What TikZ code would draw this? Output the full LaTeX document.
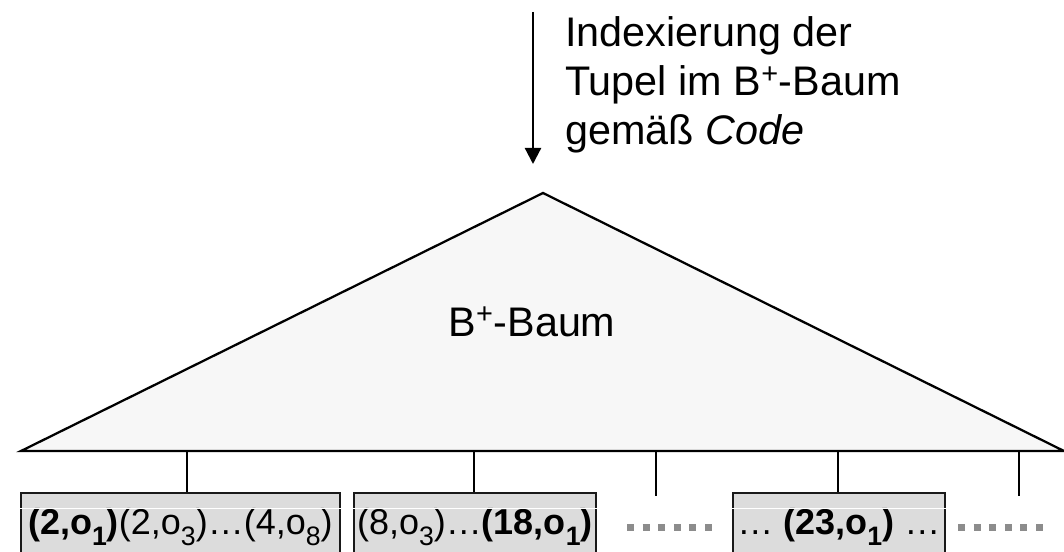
\documentclass[tikz,border=0pt]{standalone}
\usepackage{fontspec}
\setmainfont{Liberation Sans}
\usetikzlibrary{arrows.meta}
\definecolor{fogliagrigio}{HTML}{DCDCDC}
\definecolor{alberogrigio}{HTML}{F7F7F7}
\definecolor{puntigrigio}{HTML}{8C8C8C}
\newcommand{\pedice}[1]{\raisebox{-8pt}{\fontsize{20}{20}\selectfont #1}}
\begin{document}
\begin{tikzpicture}[x=0.75pt, y=-0.75pt,
    ramo/.style={line width=1.7pt},
    foglia/.style={draw=black!90, fill=fogliagrigio, line width=1.3pt, inner sep=0pt,
      anchor=north west, text height=31.5pt, text depth=40pt,
      font=\fontsize{27}{32}\selectfont},
    puntini/.style={draw=puntigrigio, line width=5.25pt, dash pattern=on 5.25pt off 6.45pt}]
      \clip (0,0) rectangle (1064,552);

      % Freccia e testo
      \coordinate (inizio) at (533,12);
      \coordinate (punta) at (533,164);
      \draw[ramo, -{Triangle[length=12pt, width=12pt]}] (inizio) -- (punta);
      \node[anchor=north west, inner sep=0pt, align=left,
        font=\fontsize{31}{36.75}\selectfont] (testo) at (565,16)
        {Indexierung der\\Tupel im B\textsuperscript{+}-Baum\\gemäß \textit{Code}};

      % Disegno dell'albero
      \coordinate (apice) at (543,193);
      \coordinate (sx) at (21,451);
      \coordinate (dx) at (1064,451);
      \draw[ramo, fill=alberogrigio] (sx) -- (apice) -- (dx) -- cycle;
      \node[anchor=base, font=\fontsize{31}{37}\selectfont] (radice) at (532,336)
        {B\textsuperscript{+}-Baum};

      % Disegno delle foglie
      \node[foglia, minimum width=239.25pt] (f1) at (20,492)
        {\textbf{(2,o\pedice{1})}(2,o\pedice{3})…(4,o\pedice{8})};
      \node[foglia, minimum width=181.5pt] (f2) at (353,492)
        {(8,o\pedice{3})…\textbf{(18,o\pedice{1})}};
      \node[foglia, minimum width=159pt] (f3) at (732,492)
        {… \textbf{(23,o\pedice{1})} …};
      \draw[white, line width=0.75pt] ([yshift=-12pt]f1.north west) -- ([yshift=-12pt]f1.north east);
      \draw[white, line width=0.75pt] ([yshift=-12pt]f2.north west) -- ([yshift=-12pt]f2.north east);
      \draw[white, line width=0.75pt] ([yshift=-12pt]f3.north west) -- ([yshift=-12pt]f3.north east);

      % Disegno dei rami
      \coordinate (r1) at (187,451);
      \coordinate (r2) at (474,451);
      \coordinate (r3) at (656,451);
      \coordinate (r4) at (838,451);
      \coordinate (r5) at (1019,451);
      \coordinate (e3) at (656,496);
      \coordinate (e5) at (1019,496);
      \draw[ramo] (r1) -- (r1 |- f1.north);
      \draw[ramo] (r2) -- (r2 |- f2.north);
      \draw[ramo] (r3) -- (e3);
      \draw[ramo] (r4) -- (r4 |- f3.north);
      \draw[ramo] (r5) -- (e5);

      % Puntini
      \coordinate (p1) at (627,527);
      \coordinate (q1) at (712,527);
      \coordinate (p2) at (958,527);
      \coordinate (q2) at (1045,527);
      \draw[puntini] (p1) -- (q1);
      \draw[puntini] (p2) -- (q2);
    \end{tikzpicture}
\end{document}
